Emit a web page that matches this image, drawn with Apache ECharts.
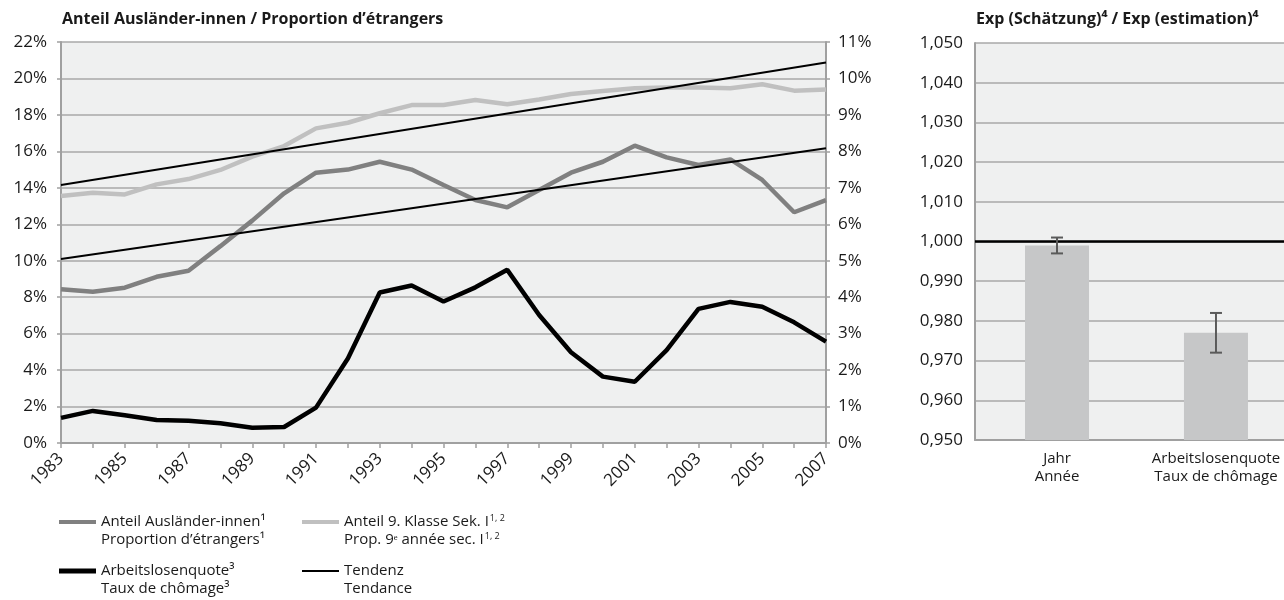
<!DOCTYPE html>
<html>
<head>
<meta charset="utf-8">
<script src="https://cdn.jsdelivr.net/npm/echarts@6/dist/echarts.min.js"></script>
<style>html,body{margin:0;padding:0;background:#fff}#c{width:1284px;height:600px}</style>
</head>
<body>
<div id="c"></div>
<script>
const years = ['1983','1984','1985','1986','1987','1988','1989','1990','1991','1992','1993','1994','1995','1996','1997','1998','1999','2000','2001','2002','2003','2004','2005','2006','2007'];
const foreigners = [8.43, 8.30, 8.52, 9.12, 9.45, 10.8, 12.2, 13.7, 14.83, 15.0, 15.43, 15.0, 14.15, 13.33, 12.93, 13.88, 14.83, 15.43, 16.31, 15.67, 15.25, 15.56, 14.43, 12.66, 13.33];
const grade9 = [13.55, 13.73, 13.64, 14.19, 14.48, 14.98, 15.71, 16.29, 17.26, 17.57, 18.09, 18.54, 18.54, 18.82, 18.58, 18.85, 19.15, 19.31, 19.46, 19.51, 19.50, 19.46, 19.68, 19.33, 19.40];
const unemployment = [0.69, 0.88, 0.76, 0.63, 0.61, 0.54, 0.42, 0.44, 0.97, 2.32, 4.13, 4.32, 3.88, 4.27, 4.75, 3.51, 2.49, 1.82, 1.68, 2.55, 3.68, 3.87, 3.74, 3.31, 2.78];
const trendUpperEnds = [14.16, 20.87];
const trendLowerEnds = [10.1, 16.17];

const estCats = ['Jahr\nAnnée', 'Arbeitslosenquote\nTaux de chômage'];
const estValues = [0.999, 0.977];
const estLow = [0.997, 0.972];
const estHigh = [1.001, 0.982];
const refValue = 1.0;

const names = {
  foreigners: 'Anteil Ausländer-innen¹\nProportion d’étrangers¹',
  grade9: 'Anteil 9. Klasse Sek. I¹˒²\nProp. 9ᵉ année sec. I¹˒²',
  unemployment: 'Arbeitslosenquote³\nTaux de chômage³',
  trend: 'Tendenz\nTendance'
};
const legendText = {};
legendText[names.grade9] = '\nAnteil 9. Klasse Sek. I{s|1, 2}\nProp. 9ᵉ année sec. I{s|1, 2}';

function endsToSeries(ends) {
  return years.map((y, i) => i === 0 ? ends[0] : (i === years.length - 1 ? ends[1] : null));
}

const FONT = 'Open Sans';
const TXT = '#1a1a1a';
const AX = '#a0a0a0';
const GRID_BG = '#eff0f0';

function legendAt(name, left, iconCenter, color, h) {
  return {
    show: true, left: left, top: iconCenter - 27, padding: 0, orient: 'horizontal',
    itemWidth: 37, itemHeight: h, icon: 'rect', itemGap: 0,
    data: [{ name: name, icon: 'rect', itemStyle: { color: color } }],
    formatter: n => legendText[n] || ('\n' + n),
    textStyle: { fontFamily: FONT, fontSize: 15, color: TXT, lineHeight: 18,
      rich: { s: { fontFamily: FONT, fontSize: 9, color: TXT, lineHeight: 18, verticalAlign: 'top', padding: [1, 0, 0, 1] } } },
    selectedMode: false
  };
}

const catIdx = estCats.map((c, i) => i);

const chart = echarts.init(document.getElementById('c'), null, { renderer: 'canvas' });
const option = {
  animation: false,
  backgroundColor: '#fff',
  textStyle: { fontFamily: FONT },
  title: [
    { text: 'Anteil Ausländer-innen / Proportion d’étrangers', left: 62, top: 11, padding: 0,
      textStyle: { fontFamily: FONT, fontWeight: 'bold', fontSize: 16, color: TXT } },
    { text: 'Exp (Schätzung)⁴ / Exp (estimation)⁴', left: 976, top: 11, padding: 0,
      textStyle: { fontFamily: FONT, fontWeight: 'bold', fontSize: 16, color: TXT } }
  ],
  legend: [
    legendAt(names.foreigners, 59, 522, '#808080', 4),
    legendAt(names.grade9, 302, 522, '#c0c0c0', 4),
    legendAt(names.unemployment, 59, 571, '#000000', 5),
    legendAt(names.trend, 302, 571, '#000000', 2)
  ],
  grid: [
    { left: 61, right: 458, top: 42, bottom: 157, show: true, backgroundColor: GRID_BG, borderWidth: 0 },
    { left: 975, right: 0, top: 43, bottom: 160, show: true, backgroundColor: GRID_BG, borderWidth: 0 }
  ],
  xAxis: [
    { type: 'category', gridIndex: 0, data: years, boundaryGap: false,
      axisLine: { lineStyle: { color: AX, width: 2 } },
      axisTick: { show: true, interval: 0, length: 5, lineStyle: { color: AX, width: 1.5 } },
      axisLabel: { interval: 1, rotate: 45, fontFamily: FONT, fontSize: 17, color: TXT, margin: 13 },
      splitLine: { show: false } },
    { type: 'value', gridIndex: 1, min: -0.516, max: 1.428,
      axisLine: { show: true, onZero: false, lineStyle: { color: AX, width: 2 } },
      axisTick: { show: false },
      splitLine: { show: false },
      axisLabel: { customValues: catIdx, formatter: v => estCats[Math.round(v)] || '',
        hideOverlap: false,
        fontFamily: FONT, fontSize: 15, color: TXT, lineHeight: 18, margin: 10 } }
  ],
  yAxis: [
    { type: 'value', gridIndex: 0, min: 0, max: 22, interval: 2, position: 'left',
      axisLine: { show: true, lineStyle: { color: AX, width: 2 } },
      axisTick: { show: true, length: 4, lineStyle: { color: AX, width: 1.5 } },
      axisLabel: { formatter: '{value}%', fontFamily: FONT, fontSize: 17, color: TXT, margin: 14 },
      splitLine: { show: true, lineStyle: { color: '#a8a8a8', width: 1.5 } } },
    { type: 'value', gridIndex: 0, min: 0, max: 11, interval: 1, position: 'right',
      axisLine: { show: true, lineStyle: { color: AX, width: 2 } },
      axisTick: { show: true, length: 4, lineStyle: { color: AX, width: 1.5 } },
      axisLabel: { formatter: '{value}%', fontFamily: FONT, fontSize: 17, color: TXT, margin: 12 },
      splitLine: { show: false } },
    { type: 'value', gridIndex: 1, min: 0.95, max: 1.05, interval: 0.01,
      axisLine: { show: true, onZero: false, lineStyle: { color: AX, width: 2 } },
      axisTick: { show: false },
      axisLabel: { formatter: v => v.toFixed(3).replace('.', ','), fontFamily: FONT, fontSize: 17, color: TXT, margin: 12 },
      splitLine: { show: true, lineStyle: { color: '#a8a8a8', width: 1.5 } } }
  ],
  series: [
    { name: names.grade9, type: 'line', xAxisIndex: 0, yAxisIndex: 0, data: grade9,
      symbol: 'none', lineStyle: { color: '#c0c0c0', width: 4.5 }, itemStyle: { color: '#c0c0c0' } },
    { name: names.foreigners, type: 'line', xAxisIndex: 0, yAxisIndex: 0, data: foreigners,
      symbol: 'none', lineStyle: { color: '#808080', width: 4.5 }, itemStyle: { color: '#808080' } },
    { name: names.unemployment, type: 'line', xAxisIndex: 0, yAxisIndex: 1, data: unemployment,
      symbol: 'none', lineStyle: { color: '#000', width: 4.5 }, itemStyle: { color: '#000' } },
    { name: names.trend, type: 'line', xAxisIndex: 0, yAxisIndex: 0, data: endsToSeries(trendUpperEnds),
      connectNulls: true, symbol: 'none', lineStyle: { color: '#000', width: 2 }, itemStyle: { color: '#000' } },
    { name: names.trend, type: 'line', xAxisIndex: 0, yAxisIndex: 0, data: endsToSeries(trendLowerEnds),
      connectNulls: true, symbol: 'none', lineStyle: { color: '#000', width: 2 }, itemStyle: { color: '#000' } },
    { name: 'Exp', type: 'bar', xAxisIndex: 1, yAxisIndex: 2, data: catIdx.map(i => [i, estValues[i]]), barWidth: 64,
      itemStyle: { color: '#c6c7c8' },
      markLine: { silent: true, symbol: 'none', label: { show: false },
        lineStyle: { color: '#000', width: 2.5, type: 'solid' }, data: [{ yAxis: refValue }] } },
    { name: 'Err', type: 'custom', xAxisIndex: 1, yAxisIndex: 2, z: 5,
      data: catIdx.map(i => [i, estLow[i], estHigh[i]]),
      renderItem: function (params, api) {
        const lo = api.coord([api.value(0), api.value(1)]);
        const hi = api.coord([api.value(0), api.value(2)]);
        const w = 6;
        const st = { stroke: '#5a5a5a', lineWidth: 2 };
        return { type: 'group', children: [
          { type: 'line', shape: { x1: lo[0], y1: lo[1], x2: hi[0], y2: hi[1] }, style: st },
          { type: 'line', shape: { x1: lo[0] - w, y1: lo[1], x2: lo[0] + w, y2: lo[1] }, style: st },
          { type: 'line', shape: { x1: hi[0] - w, y1: hi[1], x2: hi[0] + w, y2: hi[1] }, style: st }
        ]};
      } }
  ]
};
chart.setOption(option);
</script>
</body>
</html>
